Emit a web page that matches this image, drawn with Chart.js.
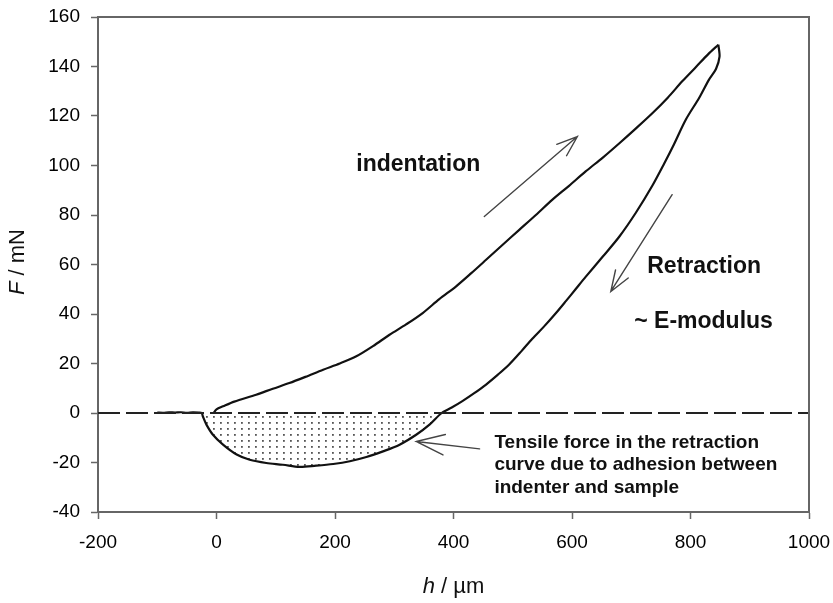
<!DOCTYPE html>
<html><head><meta charset="utf-8">
<script src="https://cdn.jsdelivr.net/npm/chart.js@4"></script>
<style>html,body{margin:0;padding:0;background:#fff}</style>
</head><body>
<canvas id="c" width="833" height="603"></canvas>
<script>
// ---- data ----
const loadH = [-5, 0, 11, 30, 67, 95, 123, 150, 180, 208, 236, 264, 292, 320, 348, 376, 404, 430, 455, 483, 511, 539, 567, 595, 623, 652, 680, 708, 736, 762, 786, 810, 830, 847];
const loadF = [0, 1.5, 2.7, 4.6, 7.4, 9.8, 12.1, 14.6, 17.5, 20, 22.9, 27, 31.6, 35.8, 40.4, 46, 51.1, 56.5, 61.9, 68, 74, 80, 86.2, 91.8, 97.6, 103.2, 109, 115, 121.2, 127.5, 134, 140, 145, 148.8];

const retrH = [847, 849, 843, 831, 815, 792, 772, 755, 736, 708, 680, 652, 623, 606, 590, 573, 553, 533, 514, 494, 475, 455, 435, 415, 397, 380, 360, 337, 309, 281, 253, 225, 197, 168, 140, 112, 84, 56, 34, 11, -6, -17, -23, -25, -30, -40, -50, -60, -70, -80, -90, -100];
const retrF = [148.8, 144, 139, 134.6, 127.5, 118.5, 108.5, 100.5, 92, 81, 71.3, 63.2, 55, 50, 45.3, 40.4, 35, 30, 24.8, 19.6, 15.5, 11.5, 8, 4.8, 2.2, 0, -4.6, -8.8, -12.8, -15.5, -17.8, -19.5, -20.6, -21.3, -21.8, -20.9, -20.2, -18.9, -16.8, -12.8, -8.8, -4.7, -1.4, 0, 0.2, 0.3, 0.1, 0.3, 0.2, 0.3, 0.1, 0.2];

const zeroH = [-200, 1000];
const zeroF = [0, 0];

const xTickValues = [-200, 0, 200, 400, 600, 800, 1000];
const yTickValues = [-40, -20, 0, 20, 40, 60, 80, 100, 120, 140, 160];

const xTitleParts = ['h', ' / µm'];
const yTitleParts = ['F', ' / mN'];

const noteTexts = ['indentation', 'Retraction', '~ E-modulus', 'Tensile force in the retraction', 'curve due to adhesion between', 'indenter and sample'];
const noteH = [236, 727, 705, 469, 469, 469];
const noteF = [100.3, 59.1, 36.9, -12, -20.9, -30.2];
const noteSize = [23, 23, 23, 19, 19, 19];

// arrows: tail (h,F) -> head (h,F)
const arrowTailH = [452, 769, 444];
const arrowTailF = [79.4, 88.2, -14.5];
const arrowHeadH = [609, 665.5, 337];
const arrowHeadF = [111.7, 49.1, -11.5];
const arrowBarb = [22, 22, 30];

// ---- helpers ----
const toXY = (hs, fs) => hs.map((h, i) => ({x: h, y: fs[i]}));

const pc = document.createElement('canvas');
pc.width = 7; pc.height = 6;
const pctx = pc.getContext('2d');
pctx.fillStyle = '#555';
pctx.fillRect(3, 2, 1.8, 1.8);
const dotPattern = document.getElementById('c').getContext('2d').createPattern(pc, 'repeat');

const FONT = '"Liberation Sans", Arial, sans-serif';
const AXIS = '#666';

const decor = {
  id: 'decor',
  afterDatasetsDraw(chart) {
    const ctx = chart.ctx, xs = chart.scales.x, ys = chart.scales.y, a = chart.chartArea;
    ctx.save();
    // frame top/right
    ctx.strokeStyle = AXIS; ctx.lineWidth = 2;
    ctx.beginPath();
    ctx.moveTo(a.left, a.top); ctx.lineTo(a.right, a.top); ctx.lineTo(a.right, a.bottom);
    ctx.stroke();
    // arrows
    ctx.strokeStyle = '#444'; ctx.lineWidth = 1.4; ctx.lineCap = 'round';
    for (let i = 0; i < arrowTailH.length; i++) {
      const x1 = xs.getPixelForValue(arrowTailH[i]), y1 = ys.getPixelForValue(arrowTailF[i]);
      const x2 = xs.getPixelForValue(arrowHeadH[i]), y2 = ys.getPixelForValue(arrowHeadF[i]);
      const ang = Math.atan2(y1 - y2, x1 - x2), L = arrowBarb[i], sp = 20 * Math.PI / 180;
      ctx.beginPath();
      ctx.moveTo(x1, y1); ctx.lineTo(x2, y2);
      ctx.moveTo(x2 + L * Math.cos(ang + sp), y2 + L * Math.sin(ang + sp)); ctx.lineTo(x2, y2);
      ctx.lineTo(x2 + L * Math.cos(ang - sp), y2 + L * Math.sin(ang - sp));
      ctx.stroke();
    }
    // notes
    ctx.fillStyle = '#111'; ctx.textAlign = 'left'; ctx.textBaseline = 'middle';
    for (let i = 0; i < noteTexts.length; i++) {
      ctx.font = 'bold ' + noteSize[i] + 'px ' + FONT;
      ctx.fillText(noteTexts[i], xs.getPixelForValue(noteH[i]), ys.getPixelForValue(noteF[i]));
    }
    // axis titles with italic symbol
    const drawTitle = (parts, cx, cy, rot) => {
      ctx.save();
      ctx.translate(cx, cy); ctx.rotate(rot);
      ctx.font = 'italic 22px ' + FONT; const w0 = ctx.measureText(parts[0]).width;
      ctx.font = '22px ' + FONT; const w1 = ctx.measureText(parts[1]).width;
      const start = -(w0 + w1) / 2;
      ctx.textAlign = 'left'; ctx.textBaseline = 'middle';
      ctx.font = 'italic 22px ' + FONT; ctx.fillText(parts[0], start, 0);
      ctx.font = '22px ' + FONT; ctx.fillText(parts[1], start + w0, 0);
      ctx.restore();
    };
    drawTitle(xTitleParts, (a.left + a.right) / 2, 587, 0);
    drawTitle(yTitleParts, 18, 262, -Math.PI / 2);
    ctx.restore();
  }
};

new Chart(document.getElementById('c'), {
  type: 'line',
  data: {
    datasets: [
      {label: 'zero', data: toXY(zeroH, zeroF), borderColor: '#222', borderWidth: 2, borderDash: [22, 6], pointRadius: 0, fill: false},
      {label: 'retraction', data: toXY(retrH, retrF), borderColor: '#111', borderWidth: 2.2, pointRadius: 0, tension: 0.3,
        fill: {target: 'origin', above: 'rgba(0,0,0,0)', below: dotPattern}},
      {label: 'indentation', data: toXY(loadH, loadF), borderColor: '#111', borderWidth: 2.2, pointRadius: 0, tension: 0.3, fill: false}
    ]
  },
  options: {
    responsive: false,
    animation: false,
    layout: {padding: {top: 17, right: 24, bottom: 0, left: 0}},
    plugins: {legend: {display: false}, tooltip: {enabled: false}},
    scales: {
      x: {
        type: 'linear', min: -200, max: 1000,
        afterBuildTicks: s => { s.ticks = xTickValues.map(v => ({value: v})); },
        afterFit: s => { s.height = 91; s.paddingLeft = 0; s.paddingRight = 0; },
        grid: {display: true, drawOnChartArea: false, drawTicks: true, tickLength: 7, tickColor: AXIS, tickWidth: 1.5},
        border: {display: true, color: AXIS, width: 2},
        ticks: {color: '#000', font: {family: FONT, size: 19}, padding: 12, maxRotation: 0, callback: v => String(v)}
      },
      y: {
        type: 'linear', min: -40, max: 160,
        afterBuildTicks: s => { s.ticks = yTickValues.map(v => ({value: v})); },
        afterFit: s => { s.width = 98; s.paddingTop = 0; s.paddingBottom = 0; },
        grid: {display: true, drawOnChartArea: false, drawTicks: true, tickLength: 7, tickColor: AXIS, tickWidth: 1.5},
        border: {display: true, color: AXIS, width: 2},
        ticks: {color: '#000', font: {family: FONT, size: 19}, padding: 11, callback: v => String(v)}
      }
    }
  },
  plugins: [decor]
});
</script>
</body></html>
